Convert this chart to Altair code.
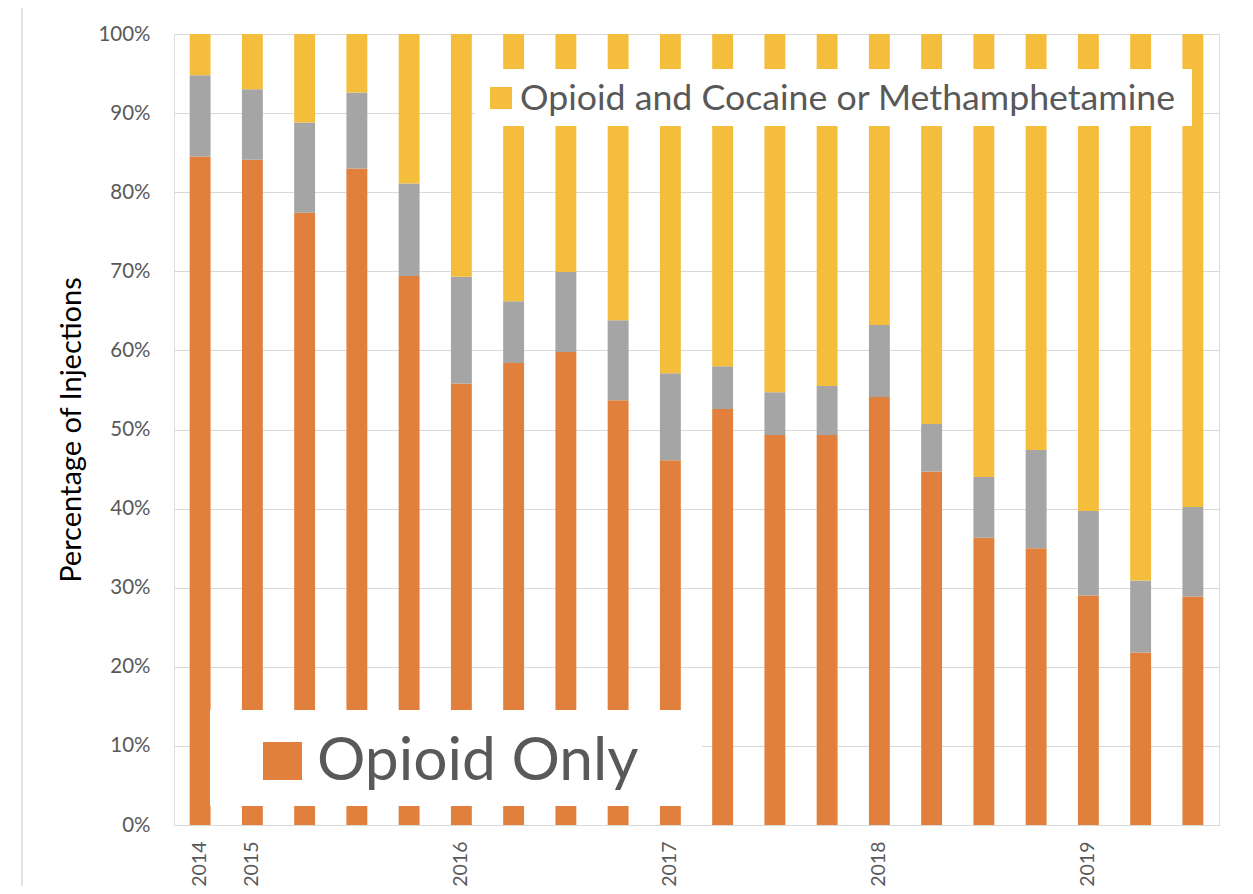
import altair as alt
import pandas as pd

# ---- data (percent of injections per quarter) ----
periods = ["2014", "2015", "2015 Q2", "2015 Q3", "2015 Q4",
           "2016", "2016 Q2", "2016 Q3", "2016 Q4",
           "2017", "2017 Q2", "2017 Q3", "2017 Q4",
           "2018", "2018 Q2", "2018 Q3", "2018 Q4",
           "2019", "2019 Q2", "2019 Q3"]
opioid_only = [84.5, 84.1, 77.4, 83.0, 69.4, 55.8, 58.4, 59.8, 53.7, 46.1,
               52.6, 49.3, 49.3, 54.1, 44.7, 36.3, 35.0, 29.0, 21.8, 28.9]
other = [10.3, 8.9, 11.4, 9.6, 11.7, 13.5, 7.8, 10.1, 10.1, 11.0,
         5.4, 5.4, 6.2, 9.1, 6.0, 7.7, 12.4, 10.7, 9.1, 11.3]
opioid_and_stim = [5.2, 7.0, 11.2, 7.4, 18.9, 30.7, 33.8, 30.1, 36.2, 42.9,
                   42.0, 45.3, 44.5, 36.8, 49.3, 56.0, 52.6, 60.3, 69.1, 59.8]

series_names = ["Opioid Only", "Other", "Opioid and Cocaine or Methamphetamine"]
series_colors = ["#E0803C", "#A5A5A5", "#F4BE3C"]
y_ticks = [0, 10, 20, 30, 40, 50, 60, 70, 80, 90, 100]

rows = []
for i, p in enumerate(periods):
    for k, vals in enumerate([opioid_only, other, opioid_and_stim]):
        rows.append({"period": p, "series": series_names[k], "value": vals[i], "order": k})
df = pd.DataFrame(rows)

FONT = "Lato"
W, H = 1045, 791

bars = alt.Chart(df).mark_bar().encode(
    x=alt.X("period:N", sort=periods,
            scale=alt.Scale(paddingInner=0.6, paddingOuter=0.3),
            axis=alt.Axis(title=None, labelAngle=-90, labelAlign="right", labelBaseline="middle",
                          labelPadding=16, ticks=False, domainColor="#D9D9D9",
                          labelExpr="length(datum.label) == 4 ? datum.label : ''",
                          labelFont=FONT, labelFontSize=19.5, labelColor="#595959")),
    y=alt.Y("value:Q", stack="zero",
            scale=alt.Scale(domain=[0, 100], nice=False),
            axis=alt.Axis(title="Percentage of Injections", values=y_ticks,
                          labelExpr="datum.value + '%'", labelPadding=24,
                          ticks=False, domain=False, gridColor="#D9D9D9",
                          labelFont=FONT, labelFontSize=20.5, labelColor="#595959",
                          titleFont=FONT, titleFontSize=29, titleFontWeight="normal",
                          titleColor="#000000", titleX=-88, titleY=H / 2)),
    color=alt.Color("series:N", scale=alt.Scale(domain=series_names, range=series_colors), legend=None),
    order=alt.Order("order:Q"),
)

frame = alt.Chart(alt.Data(values=[{"k": 1}])).mark_rect(
    fill="transparent", stroke="#D9D9D9", strokeWidth=1.5, cornerRadius=4
).encode(x=alt.value(-152), x2=alt.value(1074), y=alt.value(-28), y2=alt.value(880))

# legend for the top series (box, swatch, label)
top_box = alt.Chart(alt.Data(values=[{"k": 1}])).mark_rect(fill="white").encode(
    x=alt.value(301), x2=alt.value(1018), y=alt.value(35), y2=alt.value(92))
top_swatch = alt.Chart(alt.Data(values=[{"k": 1}])).mark_rect(fill=series_colors[2]).encode(
    x=alt.value(316), x2=alt.value(338), y=alt.value(53), y2=alt.value(75))
top_text = alt.Chart(alt.Data(values=[{"label": series_names[2]}])).mark_text(
    align="left", baseline="alphabetic", font=FONT, fontSize=35.7, color="#595959"
).encode(text="label:N", x=alt.value(346), y=alt.value(76))

bot_box = alt.Chart(alt.Data(values=[{"k": 1}])).mark_rect(fill="white").encode(
    x=alt.value(36), x2=alt.value(528), y=alt.value(676), y2=alt.value(772))
bot_swatch = alt.Chart(alt.Data(values=[{"k": 1}])).mark_rect(fill=series_colors[0]).encode(
    x=alt.value(89), x2=alt.value(128), y=alt.value(708), y2=alt.value(746))
bot_text = alt.Chart(alt.Data(values=[{"label": series_names[0]}])).mark_text(
    align="left", baseline="alphabetic", font=FONT, fontSize=60.5, color="#595959"
).encode(text="label:N", x=alt.value(143), y=alt.value(746))

chart = alt.layer(frame, bars, top_box, top_swatch, top_text, bot_box, bot_swatch, bot_text).properties(
    width=W, height=H,
    autosize=alt.AutoSizeParams(type="none"),
    padding={"left": 166, "top": 26, "right": 26, "bottom": 61},
).configure_view(stroke=None).configure(background="white")

chart.save("out.html", embed_options={"renderer": "svg", "actions": False})
